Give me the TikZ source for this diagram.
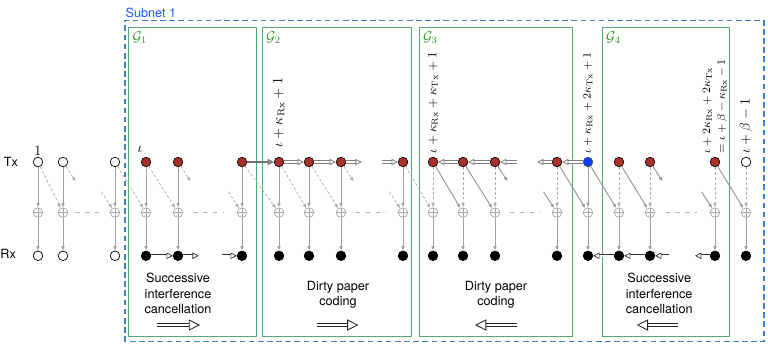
\documentclass[tikz,border=0pt]{standalone}
\usepackage{amsmath,amssymb}
\usepackage{fontspec}
\setsansfont{TeX Gyre Heros}
\usepackage{tikz}
\usetikzlibrary{arrows.meta}
\usetikzlibrary{calc}

\definecolor{userred}{RGB}{172,48,42}
\definecolor{userblue}{RGB}{8,62,250}
\definecolor{groupgreen}{RGB}{84,170,112}
\definecolor{gname}{RGB}{40,150,40}
\definecolor{subnetblue}{RGB}{62,130,212}
\definecolor{subnetname}{RGB}{30,90,235}

\begin{document}
\begin{tikzpicture}[
    >={Latex[length=3.2pt,width=2.6pt]},
    % Styles for the users, adders and links
    user/.style={circle, draw=black, line width=0.5pt, minimum size=6.8pt, inner sep=0pt},
    idle/.style={user, fill=white},
    active/.style={user, fill=userred},
    pivot/.style={user, fill=userblue, draw=black!70},
    decoded/.style={user, fill=black},
    adder/.style={circle, draw=gray!70, line width=0.5pt, minimum size=6.8pt, inner sep=0pt,
        path picture={\draw[gray!70, line width=0.5pt]
            (path picture bounding box.north) -- (path picture bounding box.south)
            (path picture bounding box.west) -- (path picture bounding box.east);}},
    link/.style={->, draw=gray!75, line width=0.7pt},
    leak/.style={->, draw=gray!65, line width=0.5pt, dash pattern=on 2pt off 1.5pt},
    hit/.style={->, draw=gray!80, line width=0.7pt},
    order/.style={-{Triangle[open,length=4.5pt,width=4.5pt]}, draw=black!50, double=white, double distance=1.1pt, line width=0.6pt},
    rxorder/.style={order, draw=black!80, double distance=1.4pt, line width=0.5pt},
    bigorder/.style={-{Triangle[open,length=8pt,width=8pt]}, draw=black!85, double=white, double distance=1.6pt, line width=0.6pt},
    gap/.style={draw=gray!60, line width=0.6pt, dash pattern=on 3pt off 4pt},
    groupbox/.style={draw=groupgreen, line width=0.7pt},
    groupname/.style={text=gname, anchor=north west, inner sep=2.5pt},
    sans/.style={font=\sffamily\fontsize{9}{11}\selectfont},
    caption/.style={sans, align=center},
    vlabel/.style={rotate=90, anchor=west, inner sep=1pt}
]
    \useasboundingbox (0,0) rectangle (19.2,8.675);

    % =========================================================================
    % 1. SUBNET AND GROUP FRAMES
    % =========================================================================
    \draw[subnetblue, line width=0.9pt, dash pattern=on 4pt off 2.5pt] (3.125,0.13) rectangle (19.1,8.16);
    \node[sans, text=subnetname, anchor=south west, inner sep=1pt] (subnet) at (3.1,8.18) {Subnet 1};

    \draw[groupbox] (3.22,0.26) rectangle (6.4,7.98);
    \draw[groupbox] (6.56,0.26) rectangle (10.29,7.98);
    \draw[groupbox] (10.48,0.26) rectangle (14.31,7.98);
    \draw[groupbox] (15.06,0.26) rectangle (18.23,7.98);
    \node[groupname] (g1) at (3.22,7.98) {$\mathcal{G}_1$};
    \node[groupname] (g2) at (6.56,7.98) {$\mathcal{G}_2$};
    \node[groupname] (g3) at (10.48,7.98) {$\mathcal{G}_3$};
    \node[groupname] (g4) at (15.06,7.98) {$\mathcal{G}_4$};

    % =========================================================================
    % 2. USERS: Tx ROW, ADDERS, Rx ROW
    % =========================================================================
    \node[sans, anchor=east] (txlabel) at (0.57,4.625) {Tx};
    \node[sans, anchor=east] (rxlabel) at (0.52,2.33) {Rx};

    \foreach \i/\x/\ts/\rs in {1/0.95/idle/idle, 2/1.575/idle/idle, 3/2.875/idle/idle,
        4/3.65/active/decoded, 5/4.45/active/decoded, 6/6.05/active/decoded,
        7/6.975/active/decoded, 8/7.725/active/decoded, 9/8.525/active/decoded,
        10/10.075/active/decoded, 11/10.825/active/decoded, 12/11.575/active/decoded,
        13/12.375/active/decoded, 14/13.925/active/decoded, 15/14.7/pivot/decoded,
        16/15.475/active/decoded, 17/16.25/active/decoded, 18/17.875/active/decoded,
        19/18.65/idle/decoded}
    {
        \node[\ts] (t\i) at (\x,4.625) {};
        \node[adder] (p\i) at (\x,3.36) {};
        \node[\rs] (r\i) at (\x,2.28) {};
        \draw[link] (p\i) -- (r\i);
    }

    % Direct links Tx -> adder
    \foreach \i in {1,...,10,15}
        \draw[link] (t\i) -- (p\i);
    \foreach \i in {11,...,14,16,17,18,19}
        \draw[leak] (t\i) -- (p\i);

    % Gaps between the shown users
    \foreach \a/\b in {2/3, 5/6, 9/10, 13/14, 17/18}
        \draw[gap] ($(p\a)!0.24!(p\b)$) -- ($(p\a)!0.72!(p\b)$);

    % =========================================================================
    % 3. INTERFERENCE TO THE NEXT RECEIVER
    % =========================================================================
    \foreach \a/\b in {1/2, 3/4, 4/5, 6/7, 7/8, 8/9, 10/11}
        \draw[leak] (t\a) -- (p\b);
    \foreach \a/\b in {11/12, 12/13, 14/15, 15/16, 16/17, 18/19}
        \draw[hit] (t\a) -- (p\b);

    % stubs to and from the hidden users
    \foreach \i in {2,5,9}
        \draw[leak] (t\i) -- ++(-57:0.58);
    \foreach \i in {3,6,10}
        \draw[leak] ($(p\i)+(123:0.62)$) -- (p\i);
    \foreach \i in {13,17}
        \draw[hit] (t\i) -- ++(-57:0.58);
    \foreach \i in {14,18}
        \draw[hit] ($(p\i)+(123:0.62)$) -- (p\i);

    % =========================================================================
    % 4. DECODING / ENCODING ORDER
    % =========================================================================
    % SIC in G1 (left to right)
    \draw[rxorder] (r4) -- (r5);
    \draw[rxorder] (r5) -- ++(0.52,0);
    \draw[rxorder] ($(r6)+(-0.5,0)$) -- (r6);

    % DPC in G2 (left to right)
    \draw[-{Triangle[open,length=4.5pt,width=4.5pt]}, draw=black!55, line width=1.1pt] (t6) -- (t7);
    \draw[order] (t7) -- (t8);
    \draw[order] (t8) -- (t9);
    \draw[order] (t9) -- ++(0.52,0);
    \draw[order] ($(t10)+(-0.53,0)$) -- (t10);

    % DPC in G3 (right to left)
    \draw[order] (t15) -- (t14);
    \draw[order] (t14) -- ++(-0.5,0);
    \draw[order] ($(t13)+(0.55,0)$) -- (t13);
    \draw[order] (t13) -- (t12);
    \draw[order] (t12) -- (t11);

    % SIC in G4 (right to left)
    \draw[rxorder] (r16) -- (r15);
    \draw[rxorder] (r17) -- (r16);
    \draw[rxorder] ($(r17)+(0.47,0)$) -- (r17);
    \draw[rxorder] (r18) -- ++(-0.5,0);

    % =========================================================================
    % 5. LABELS AND CAPTIONS
    % =========================================================================
    \node[inner sep=1pt, anchor=south] (n1) at (t1.north) {$1$};
    \node[inner sep=1pt] (niota) at (3.5,4.93) {$\iota$};
    \node[vlabel] (n7) at ($(t7.north)+(0,0.2)$) {$\iota+\kappa_{\mathrm{Rx}}+1$};
    \node[vlabel, font=\fontsize{8.6}{10}\selectfont] (n11) at ($(t11.north)+(0,0.05)$) {$\iota+\kappa_{\mathrm{Rx}}+\kappa_{\mathrm{Tx}}+1$};
    \node[vlabel, font=\fontsize{8.4}{10}\selectfont] (n15) at ($(t15.north)+(0,0.05)$) {$\iota+\kappa_{\mathrm{Rx}}+2\kappa_{\mathrm{Tx}}+1$};
    \node[vlabel, align=left, font=\fontsize{8.4}{10.5}\selectfont] (n18) at ($(t18.north)+(0,0.05)$) {$\iota+2\kappa_{\mathrm{Rx}}+2\kappa_{\mathrm{Tx}}$\\$=\iota+\beta-\kappa_{\mathrm{Rx}}-1$};
    \node[vlabel] (n19) at ($(t19.north)+(0,0.05)$) {$\iota+\beta-1$};

    \node[caption] (sic1) at (4.45,1.34) {Successive\\interference\\cancellation};
    \node[caption] (dpc1) at (8.45,1.3) {Dirty paper\\coding};
    \node[caption] (dpc2) at (12.4,1.3) {Dirty paper\\coding};
    \node[caption] (sic2) at (16.48,1.34) {Successive\\interference\\cancellation};

    \draw[bigorder] (3.925,0.55) -- (5.0,0.55);
    \draw[bigorder] (7.92,0.55) -- (8.96,0.55);
    \draw[bigorder] (12.93,0.55) -- (11.875,0.55);
    \draw[bigorder] (16.96,0.55) -- (15.92,0.55);

\end{tikzpicture}
\end{document}
